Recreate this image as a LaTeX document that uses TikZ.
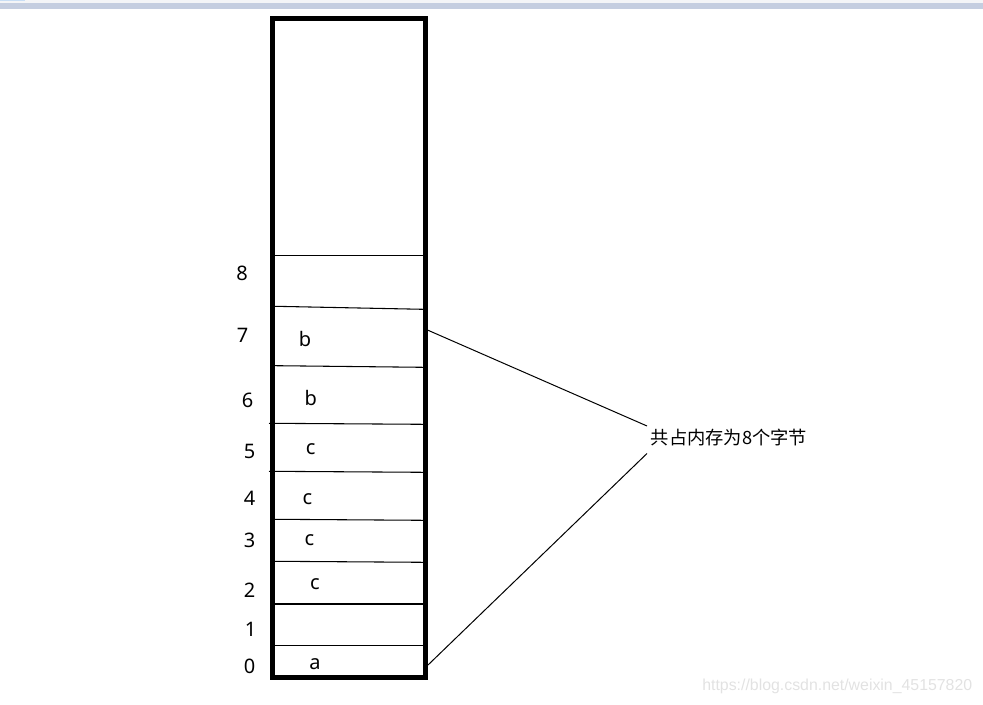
\documentclass[tikz,border=0pt]{standalone}
\usepackage{fontspec}
\setmainfont{Noto Sans}
\newfontfamily\cjk{Noto Sans CJK SC}
\newfontfamily\wmfont{Liberation Sans}
\definecolor{bandc}{RGB}{197,206,224}
\definecolor{topc}{RGB}{244,245,247}
\definecolor{tabc}{RGB}{200,222,245}
\definecolor{wmc}{RGB}{226,226,226}
\tikzset{
  idx/.style={font=\fontsize{15pt}{16pt}\selectfont, inner sep=0pt, anchor=center},
  cell/.style={font=\fontsize{15pt}{16pt}\selectfont, inner sep=0pt, anchor=center},
  sep/.style={line width=0.8pt},
  frame/.style={line width=3.75pt},
  conn/.style={line width=0.75pt}
}
\begin{document}
\begin{tikzpicture}[x=0.75pt,y=-0.75pt]
\useasboundingbox (0,0) rectangle (983,705);
% top bar
\fill[topc] (0,0) rectangle (983,3.5);
\fill[tabc] (0,0) rectangle (25,1.2);
\fill[bandc] (0,3.5) rectangle (983,9);
% separator lines
\draw[sep] (275,255.3) -- (423,255.3);
\draw[sep] (275,306.3) -- (423,309.3);
\draw[sep] (275,365.7) -- (423,367.3);
\draw[sep] (269,423.3) -- (423,424.3);
\draw[sep] (269,471.3) -- (423,472.3);
\draw[sep] (275,519.3) -- (423,520.3);
\draw[sep] (275,561.3) -- (423,562.3);
\draw[sep] (275,604) -- (423,604);
\draw[sep] (275,645.3) -- (423,645.3);
% frame
\draw[frame] (272.5,18.3) rectangle (425,677.5);
% index labels
\node[idx] (i8) at (242,273) {8};
\node[idx] (i7) at (242.7,335.5) {7};
\node[idx] (i6) at (247.5,400.5) {6};
\node[idx] (i5) at (249.5,451.5) {5};
\node[idx] (i4) at (249.5,498.5) {4};
\node[idx] (i3) at (249.5,540) {3};
\node[idx] (i2) at (249.5,590) {2};
\node[idx] (i1) at (250.7,629) {1};
\node[idx] (i0) at (249.5,666.5) {0};
% cell contents
\node[cell] (c7) at (305,339.5) {b};
\node[cell] (c6) at (310.7,398.5) {b};
\node[cell] (c5) at (310.7,449) {c};
\node[cell] (c4) at (307.3,499) {c};
\node[cell] (c3) at (309.3,540.5) {c};
\node[cell] (c2) at (315,584) {c};
\node[cell] (c0) at (315,664) {a};
% label
\node[font=\cjk\fontsize{13.7pt}{15pt}\selectfont, inner sep=0pt, anchor=west] (lbl) at (650.5,438) {共占内存为8个字节};
\coordinate (up) at (424,328.5);
\coordinate (lo) at (428,665);
\coordinate (upend) at (647,426);
\coordinate (loend) at (647,453.5);
\draw[conn] (up) -- (upend);
\draw[conn] (lo) -- (loend);
% watermark
\node[font=\wmfont\fontsize{11.9pt}{13pt}\selectfont, text=wmc, inner sep=0pt, anchor=east] (wm) at (972.5,686.5) {https://blog.csdn.net/weixin\_45157820};
\end{tikzpicture}
\end{document}
